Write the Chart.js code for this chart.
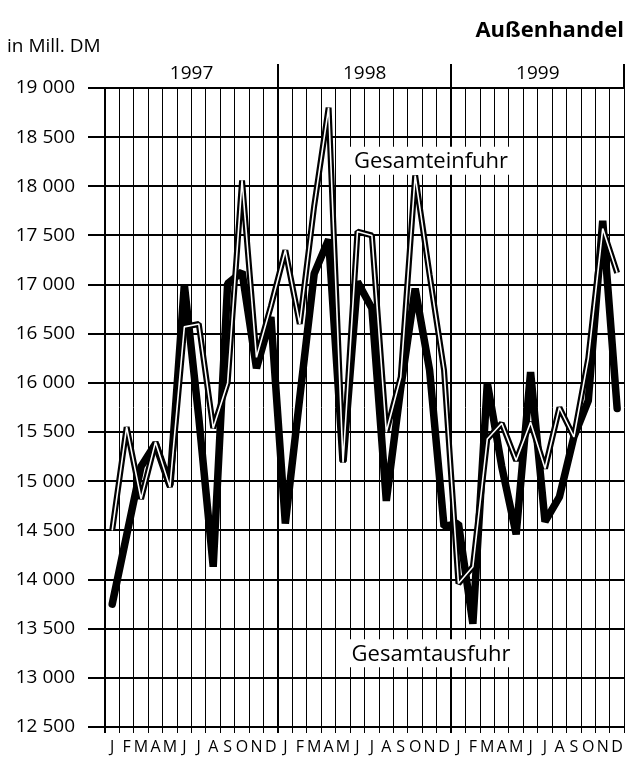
<!DOCTYPE html>
<html>
<head>
<meta charset="utf-8">
<script src="https://cdn.jsdelivr.net/npm/chart.js@4"></script>
<style>
    html, body { margin: 0; padding: 0; background: #fff; }
    #wrap { width: 628px; height: 758px; }
</style>
</head>
<body>
<div id="wrap"><canvas id="trade"></canvas></div>
<script>
// Monthly values, in Mill. DM
const years = ['1997', '1998', '1999'];
const monthLetters = ['J', 'F', 'M', 'A', 'M', 'J', 'J', 'A', 'S', 'O', 'N', 'D'];
const yTicks = [12500, 13000, 13500, 14000, 14500, 15000, 15500, 16000, 16500, 17000, 17500, 18000, 18500, 19000];

const einfuhr = [
    14500, 15550, 14820, 15400, 14940, 16570, 16600, 15540, 16000, 18060, 16260, 16780,
    17350, 16600, 17800, 18800, 15190, 17540, 17500, 15500, 16060, 18110, 17100, 16130,
    13960, 14130, 15430, 15590, 15210, 15600, 15130, 15750, 15450, 16250, 17570, 17120
];

const ausfuhr = [
    13750, 14450, 15150, 15380, 14960, 17000, 15650, 14130, 17010, 17130, 16150, 16670,
    14570, 15850, 17110, 17460, 15200, 17030, 16760, 14800, 15950, 16960, 16130, 14540,
    14570, 13550, 16000, 15150, 14460, 16110, 14590, 14840, 15450, 15820, 17650, 15740
];

const months = [];
for (const y of years) {
    for (const m of monthLetters) {
        months.push(m);
    }
}

const FONT = '"Open Sans", "Noto Sans", sans-serif';

function fmt(v)
{
    const s = String(v);
    return s.slice(0, s.length - 3) + ' ' + s.slice(-3);
}

// Title, unit and the two boxed series names
const decorations = {
    id: 'decorations',
    afterDraw(chart) {
        const ctx = chart.ctx;
        const xs = chart.scales.x;
        const ys = chart.scales.y;
        ctx.save();
        ctx.fillStyle = '#000';
        ctx.textBaseline = 'middle';

        ctx.font = 'bold 22px ' + FONT;
        ctx.textAlign = 'right';
        ctx.fillText('Außenhandel', 624, 31);

        ctx.font = '19px ' + FONT;
        ctx.textAlign = 'left';
        ctx.fillText('in Mill. DM', 7, 47);

        const labels = [
            { text: 'Gesamteinfuhr', at: 22.1, value: 18260 },
            { text: 'Gesamtausfuhr', at: 22.1, value: 13250 },
        ];
        ctx.font = '22px ' + FONT;
        ctx.textAlign = 'center';
        for (const l of labels) {
            const x0 = xs.getPixelForValue(Math.floor(l.at));
            const x1 = xs.getPixelForValue(Math.floor(l.at) + 1);
            const x = x0 + (x1 - x0) * (l.at - Math.floor(l.at));
            const y = ys.getPixelForValue(l.value);
            const w = ctx.measureText(l.text).width;
            ctx.fillStyle = '#fff';
            ctx.fillRect(x - w / 2 - 5, y - 14, w + 10, 28);
            ctx.fillStyle = '#000';
            ctx.fillText(l.text, x, y + 1);
        }
        ctx.restore();
    }
};

new Chart(
    document.getElementById('trade'),
    {
        type: 'line',
        plugins: [decorations],
        data: {
            labels: months,
            datasets: [
                {
                    // white core of the outlined line
                    data: einfuhr,
                    borderColor: '#fff',
                    borderWidth: 1.6,
                    pointRadius: 0,
                    tension: 0,
                    borderJoinStyle: 'bevel',
                    order: 0
                },
                {
                    label: 'Gesamteinfuhr',
                    data: einfuhr,
                    borderColor: '#000',
                    borderWidth: 6,
                    pointRadius: 0,
                    tension: 0,
                    borderJoinStyle: 'bevel',
                    order: 1
                },
                {
                    label: 'Gesamtausfuhr',
                    data: ausfuhr,
                    borderColor: '#000',
                    borderWidth: 7.5,
                    pointRadius: 0,
                    tension: 0,
                    borderJoinStyle: 'bevel',
                    borderCapStyle: 'round',
                    order: 2
                }
            ]
        },
        options: {
            responsive: true,
            maintainAspectRatio: false,
            animation: false,
            layout: { padding: { left: 0, right: 1, top: 0, bottom: 0 } },
            plugins: {
                legend: { display: false },
                tooltip: { enabled: false }
            },
            scales: {
                x: {
                    type: 'category',
                    position: 'bottom',
                    offset: true,
                    grid: {
                        offset: true,
                        color: '#000',
                        lineWidth: (c) => (c.index % 12 === 0 ? 2 : 1),
                        tickLength: 6
                    },
                    border: { display: false },
                    ticks: {
                        color: '#000',
                        font: { family: FONT, size: 16 },
                        padding: 5,
                        autoSkip: false,
                        maxRotation: 0
                    },
                    afterFit: (s) => { s.height = 31; }
                },
                years: {
                    type: 'category',
                    position: 'top',
                    labels: years,
                    offset: true,
                    grid: {
                        offset: true,
                        drawOnChartArea: false,
                        color: (c) => (c.index === 0 || c.index === years.length ? 'rgba(0,0,0,0)' : '#000'),
                        lineWidth: 2,
                        tickLength: 24
                    },
                    border: { display: false },
                    ticks: {
                        color: '#000',
                        font: { family: FONT, size: 19 },
                        padding: -21,
                        maxRotation: 0
                    },
                    afterFit: (s) => { s.height = 88; }
                },
                y: {
                    min: 12500,
                    max: 19000,
                    afterBuildTicks: (s) => { s.ticks = yTicks.map(v => ({ value: v })); },
                    grid: {
                        color: '#000',
                        lineWidth: 2,
                        tickLength: 17
                    },
                    border: { color: '#000', width: 2 },
                    ticks: {
                        color: '#000',
                        font: { family: FONT, size: 19 },
                        padding: 13,
                        callback: (v) => fmt(v)
                    },
                    afterFit: (s) => { s.width = 105; }
                }
            }
        }
    }
);
</script>
</body>
</html>
